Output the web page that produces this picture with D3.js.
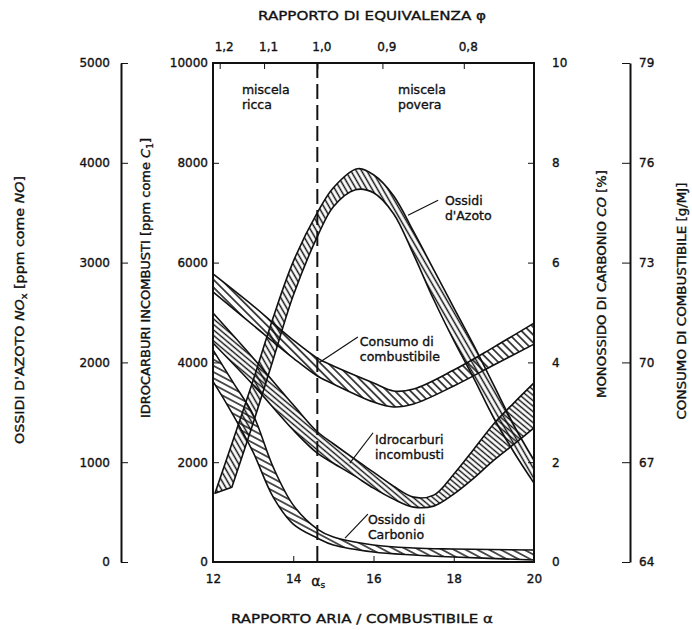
<!DOCTYPE html>
<html>
<head>
<meta charset="utf-8">
<script src="https://cdn.jsdelivr.net/npm/d3@7"></script>
<style>
  body { margin: 0; background: #fff; }
  svg text { font-family: "DejaVu Sans", sans-serif; fill: #111; stroke: #111; stroke-width: 0.35px; }
  .axis path, .axis line { stroke: #111; }
  .axis text { font-size: 12px; }
</style>
</head>
<body>
<div id="chart"></div>
<script>
// air / fuel ratio axis
const alphaTicks = [12, 14, 16, 18, 20];
const alphaS = 14.6;
// equivalence ratio phi (top axis)
const phiTicks = [1.2, 1.1, 1.0, 0.9, 0.8];

// left axes
const noxTicks = [0, 1000, 2000, 3000, 4000, 5000];
const hcTicks = [0, 2000, 4000, 6000, 8000, 10000];
// right axes
const coTicks = [0, 2, 4, 6, 8, 10];
const fuelTicks = [64, 67, 70, 73, 76, 79];

// Ossidi d'Azoto band, ppm NO (left outer axis)
const noxUpperAlpha = [12.05, 12.5, 13, 13.5, 14, 14.6, 15, 15.6, 16, 16.5, 17, 17.5, 18, 18.5, 19, 19.5, 20];
const noxUpper = [690, 1220, 1820, 2450, 3010, 3500, 3750, 3940, 3880, 3670, 3310, 2930, 2550, 2170, 1770, 1370, 1020];
const noxLowerAlpha = [12.47, 13, 13.5, 14, 14.6, 15, 15.55, 16, 16.5, 17, 17.5, 18, 18.5, 19, 19.5, 20];
const noxLower = [750, 1390, 2030, 2670, 3260, 3560, 3730, 3700, 3490, 3080, 2630, 2220, 1840, 1440, 1100, 790];

// Consumo di combustibile band, g/MJ (right outer axis)
const fuelAlpha = [12, 13, 14, 14.6, 15, 16, 16.5, 17, 18, 19, 20];
const fuelUpper = [72.66, 71.70, 70.67, 70.13, 69.89, 69.38, 69.14, 69.20, 69.77, 70.46, 71.18];
const fuelLower = [72.12, 71.12, 70.13, 69.59, 69.35, 68.81, 68.66, 68.75, 69.29, 69.92, 70.55];

// Idrocarburi incombusti band, ppm C1 (left frame axis)
const hcAlpha = [12, 13, 14, 14.6, 15, 15.5, 16, 16.5, 17, 17.5, 18, 18.5, 19, 19.5, 20];
const hcUpper = [4990, 4090, 3150, 2610, 2370, 2080, 1800, 1520, 1300, 1340, 1760, 2260, 2770, 3190, 3590];
const hcLower = [4390, 3550, 2645, 2180, 1980, 1740, 1480, 1260, 1100, 1120, 1360, 1680, 2040, 2360, 2690];

// Ossido di Carbonio band, % (right frame axis)
const coAlpha = [12, 12.5, 13, 13.5, 14, 14.6, 15, 16, 17, 18, 20];
const coUpper = [4.25, 3.6, 2.95, 1.9, 1.14, 0.66, 0.50, 0.34, 0.28, 0.26, 0.24];
const coLower = [3.62, 2.95, 2.2, 1.3, 0.76, 0.48, 0.34, 0.20, 0.14, 0.10, 0.04];

const width = 692, height = 630;
const frame = {left: 213, right: 534, top: 63, bottom: 562};

const svg = d3.select('#chart').append('svg')
    .attr('width', width)
    .attr('height', height);

const x = d3.scaleLinear().domain([12, 20]).range([frame.left, frame.right]);
const yHC = d3.scaleLinear().domain([0, 10000]).range([frame.bottom, frame.top]);
const yNOx = d3.scaleLinear().domain([0, 5000]).range([frame.bottom, frame.top]);
const yCO = d3.scaleLinear().domain([0, 10]).range([frame.bottom, frame.top]);
const yFuel = d3.scaleLinear().domain([64, 79]).range([frame.bottom, frame.top]);

const comma = d => d3.format('.1f')(d).replace('.', ',');
const plain = d3.format('d');

// hatch patterns, one per band
const defs = svg.append('defs');
function hatch(id, angle, gap, sw) {
    const p = defs.append('pattern')
        .attr('id', id)
        .attr('patternUnits', 'userSpaceOnUse')
        .attr('width', gap)
        .attr('height', gap)
        .attr('patternTransform', `rotate(${angle})`);
    p.append('line')
        .attr('x1', gap / 2).attr('y1', -1)
        .attr('x2', gap / 2).attr('y2', gap + 1)
        .attr('stroke', '#111')
        .attr('stroke-width', sw);
}
hatch('h-nox', -30, 4.6, 1.5);
hatch('h-fuel', -45, 5.5, 1.5);
hatch('h-hc', -50, 4.2, 1.4);
hatch('h-co', -62, 5.5, 1.4);

const edge = d3.line().curve(d3.curveCatmullRom.alpha(0.5));

function band(aHi, vHi, aLo, vLo, yScale, pat) {
    const hi = aHi.map((a, i) => [x(a), yScale(vHi[i])]);
    const lo = aLo.map((a, i) => [x(a), yScale(vLo[i])]).reverse();
    const d = edge(hi) + edge(lo).replace(/^M/, 'L') + 'Z';
    svg.append('path')
        .attr('class', 'band')
        .attr('d', d)
        .attr('fill', `url(#${pat})`)
        .attr('stroke', '#111')
        .attr('stroke-width', 1.6)
        .attr('stroke-linejoin', 'round');
}

band(fuelAlpha, fuelUpper, fuelAlpha, fuelLower, yFuel, 'h-fuel');
band(hcAlpha, hcUpper, hcAlpha, hcLower, yHC, 'h-hc');
band(coAlpha, coUpper, coAlpha, coLower, yCO, 'h-co');
band(noxUpperAlpha, noxUpper, noxLowerAlpha, noxLower, yNOx, 'h-nox');

// frame
svg.append('rect')
    .attr('x', frame.left).attr('y', frame.top)
    .attr('width', frame.right - frame.left)
    .attr('height', frame.bottom - frame.top)
    .attr('fill', 'none')
    .attr('stroke', '#111')
    .attr('stroke-width', 2);

// stoichiometric dashed line
svg.append('line')
    .attr('x1', x(alphaS)).attr('x2', x(alphaS))
    .attr('y1', frame.top).attr('y2', frame.bottom)
    .attr('stroke', '#111')
    .attr('stroke-width', 2)
    .attr('stroke-dasharray', '15,6');

// axes
svg.append('g').attr('class', 'axis')
    .attr('transform', `translate(0,${frame.bottom})`)
    .call(d3.axisBottom(x).tickValues(alphaTicks).tickSizeInner(-6).tickSizeOuter(0).tickPadding(12))
    .call(g => g.select('.domain').remove())
    .selectAll('text').attr('font-size', 13);

svg.append('g').attr('class', 'axis')
    .attr('transform', `translate(0,${frame.top})`)
    .call(d3.axisTop(x).tickValues(phiTicks.map(p => alphaS / p))
        .tickFormat((d, i) => comma(phiTicks[i]))
        .tickSizeInner(-6).tickSizeOuter(0).tickPadding(12))
    .call(g => g.select('.domain').remove())
    .selectAll('text').attr('font-size', 13).attr('dx', 4);

svg.append('g').attr('class', 'axis')
    .attr('transform', `translate(${frame.left},0)`)
    .call(d3.axisLeft(yHC).tickValues(hcTicks).tickFormat(plain).tickSizeInner(-6).tickSizeOuter(0).tickPadding(5))
    .call(g => g.select('.domain').remove());

svg.append('g').attr('class', 'axis')
    .attr('transform', `translate(${frame.right},0)`)
    .call(d3.axisRight(yCO).tickValues(coTicks).tickSizeInner(-6).tickSizeOuter(0).tickPadding(18))
    .call(g => g.select('.domain').remove());

svg.append('g').attr('class', 'axis')
    .attr('transform', 'translate(121,0)')
    .call(d3.axisLeft(yNOx).tickValues(noxTicks).tickFormat(plain).tickSizeInner(-7).tickSizeOuter(0).tickPadding(11))
    .call(g => g.select('.domain').attr('stroke-width', 2));

svg.append('g').attr('class', 'axis')
    .attr('transform', 'translate(630,0)')
    .call(d3.axisRight(yFuel).tickValues(fuelTicks).tickSizeInner(-8).tickSizeOuter(0).tickPadding(9))
    .call(g => g.select('.domain').attr('stroke-width', 2));

// alpha_s label under the dashed line
svg.append('text')
    .attr('x', x(alphaS) + 1).attr('y', frame.bottom + 24)
    .attr('text-anchor', 'middle')
    .attr('font-size', 14)
    .text('α')
    .append('tspan').attr('font-size', 9).attr('dy', 2).text('s');

// axis titles
svg.append('text')
    .attr('x', 372).attr('y', 20)
    .attr('text-anchor', 'middle')
    .attr('font-size', 12.5)
    .attr('textLength', 228)
    .attr('lengthAdjust', 'spacingAndGlyphs')
    .text('RAPPORTO DI EQUIVALENZA φ');

svg.append('text')
    .attr('x', 362).attr('y', 623)
    .attr('text-anchor', 'middle')
    .attr('font-size', 12.5)
    .attr('textLength', 262)
    .attr('lengthAdjust', 'spacingAndGlyphs')
    .text('RAPPORTO ARIA / COMBUSTIBILE α');

function vtitle(cx, cy, len, parts) {
    const t = svg.append('text')
        .attr('transform', `translate(${cx},${cy}) rotate(-90)`)
        .attr('text-anchor', 'middle')
        .attr('dominant-baseline', 'central')
        .attr('font-size', 11.5)
        .attr('textLength', len)
        .attr('lengthAdjust', 'spacingAndGlyphs');
    parts.forEach(p => {
        const s = t.append('tspan').text(p.t);
        if (p.i) s.attr('font-style', 'italic');
        if (p.sub) s.attr('font-size', 8).attr('baseline-shift', 'sub');
    });
}
vtitle(20, 310, 268, [{t: 'OSSIDI D\'AZOTO '}, {t: 'NO', i: 1}, {t: 'x', sub: 1}, {t: ' [ppm come '}, {t: 'NO', i: 1}, {t: ']'}]);
vtitle(146, 278, 280, [{t: 'IDROCARBURI INCOMBUSTI [ppm come '}, {t: 'C', i: 1}, {t: '1', sub: 1}, {t: ']'}]);
vtitle(602, 284, 228, [{t: 'MONOSSIDO DI CARBONIO '}, {t: 'CO', i: 1}, {t: ' [%]'}]);
vtitle(682, 301, 237, [{t: 'CONSUMO DI COMBUSTIBILE [g/MJ]'}]);

// region labels (positions in alpha / left frame units)
const notes = [
    {a: 12.72, v: 9380, lines: ['miscela', 'ricca']},
    {a: 16.61, v: 9380, lines: ['miscela', 'povera']},
    {a: 17.78, v: 7150, lines: ['Ossidi', 'd\'Azoto'], from: [16.86, 6950], to: [17.61, 7250]},
    {a: 15.66, v: 4330, lines: ['Consumo di', 'combustibile'], from: [14.67, 4010], to: [15.61, 4510]},
    {a: 16.04, v: 2370, lines: ['Idrocarburi', 'incombusti'], from: [15.41, 1980], to: [15.99, 2590]},
    {a: 15.86, v: 765, lines: ['Ossido di', 'Carbonio'], from: [15.29, 480], to: [15.86, 960]}
];
notes.forEach(n => {
    const t = svg.append('text')
        .attr('x', x(n.a)).attr('y', yHC(n.v))
        .attr('font-size', 12.5);
    n.lines.forEach((l, i) => {
        t.append('tspan').attr('x', x(n.a)).attr('dy', i ? 15 : 0).text(l);
    });
    if (n.from) {
        svg.append('line')
            .attr('x1', x(n.from[0])).attr('y1', yHC(n.from[1]))
            .attr('x2', x(n.to[0])).attr('y2', yHC(n.to[1]))
            .attr('stroke', '#111')
            .attr('stroke-width', 1.2);
    }
});
</script>
</body>
</html>
